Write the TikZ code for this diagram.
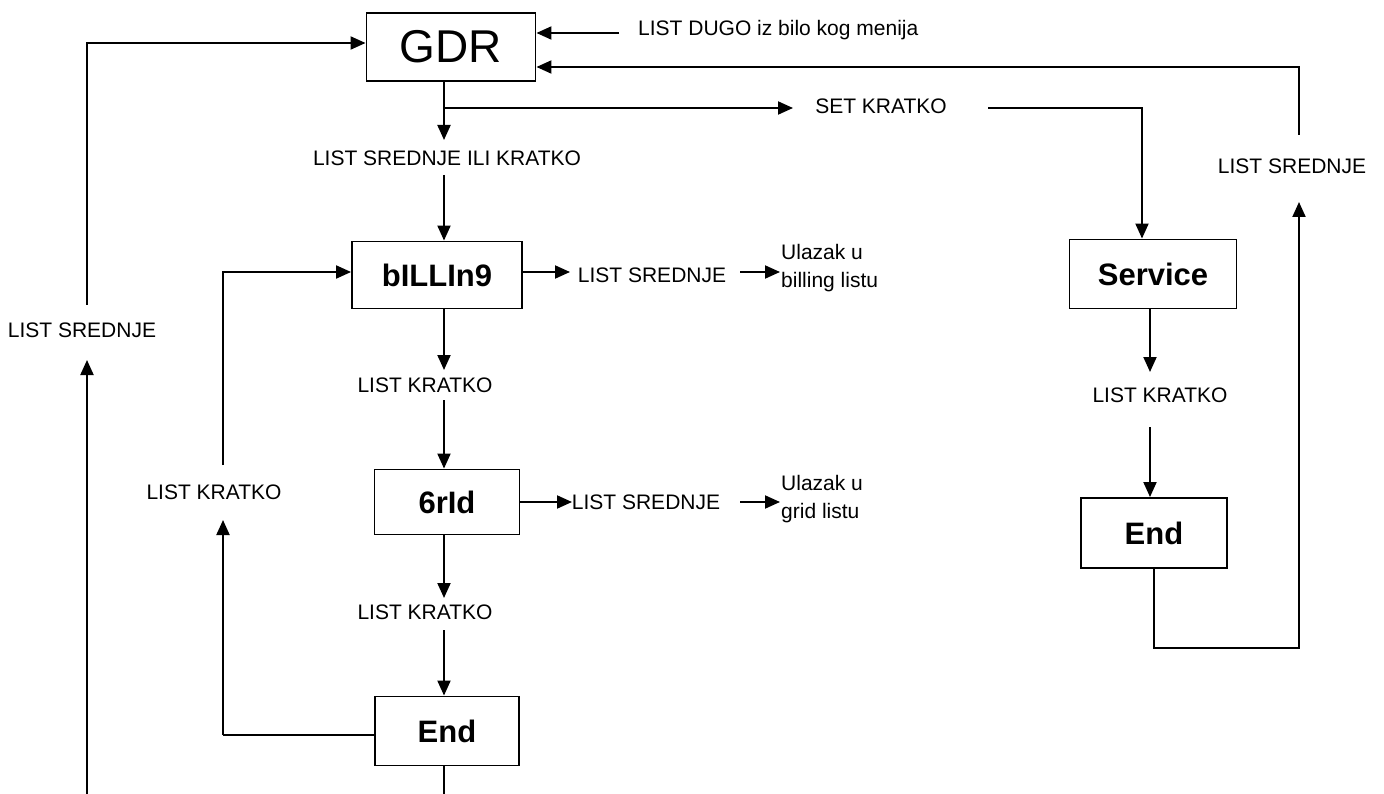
\documentclass[tikz,border=0pt]{standalone}
\usepackage{fontspec}
\setmainfont{Liberation Sans}
\usetikzlibrary{arrows.meta}

\begin{document}
\begin{tikzpicture}[
  x=1pt, y=-1pt,
  every node/.style={inner sep=2pt,font=\fontsize{21}{28}\selectfont},
  box/.style={rectangle,draw,line width=1.9pt,font=\fontsize{31}{36}\selectfont\bfseries},
  arr/.style={line width=2pt,-{Triangle[length=15pt,width=13pt]}},
  wire/.style={line width=1.6pt}
]
  \useasboundingbox (0,0) rectangle (1384,794);

  % boxes
  \node[box,minimum width=169pt,minimum height=68pt,font=\fontsize{46}{52}\selectfont] (gdr) at (451,47) {GDR};
  \node[box,minimum width=170pt,minimum height=67pt] (billing) at (437,275) {bILLIn9};
  \node[box,minimum width=145pt,minimum height=65pt] (grid) at (447,502) {6rId};
  \node[box,minimum width=144pt,minimum height=69pt] (endA) at (447,731) {End};
  \node[box,minimum width=167pt,minimum height=69pt] (service) at (1153,274) {Service};
  \node[box,minimum width=146pt,minimum height=70pt] (endB) at (1154,533) {End};

  % labels
  \node[anchor=west] (dugo) at (636,30) {LIST DUGO iz bilo kog menija};
  \node (setk) at (881,106) {SET KRATKO};
  \node (lsik) at (447,158) {LIST SREDNJE ILI KRATKO};
  \node (lk1) at (425,385) {LIST KRATKO};
  \node (lk2) at (425,612) {LIST KRATKO};
  \node (lsB) at (652,275) {LIST SREDNJE};
  \node[anchor=west,align=left] (ulB) at (779,268) {Ulazak u\\billing listu};
  \node (lsG) at (646,502) {LIST SREDNJE};
  \node[anchor=west,align=left] (ulG) at (779,499) {Ulazak u\\grid listu};
  \node (lsL) at (82,330) {LIST SREDNJE};
  \node (lkL) at (214,492) {LIST KRATKO};
  \node (lsR) at (1292,166) {LIST SREDNJE};
  \node (lkR) at (1160,395) {LIST KRATKO};

  % free ends and bends
  \coordinate (split) at (444,108);
  \coordinate (a1) at (444,140);
  \coordinate (a2) at (444,175);
  \coordinate (a3) at (444,370);
  \coordinate (a4) at (444,400);
  \coordinate (a5) at (444,598);
  \coordinate (a6) at (444,630);
  \coordinate (a7) at (444,794);
  \coordinate (setIn) at (793,108);
  \coordinate (setOut) at (988,108);
  \coordinate (sCorner) at (1142,108);
  \coordinate (dugoIn) at (619,33);
  \coordinate (rTop) at (1299,135);
  \coordinate (rCorner) at (1299,67);
  \coordinate (rBot) at (1299,648);
  \coordinate (rTip) at (1299,202);
  \coordinate (e1) at (1150,372);
  \coordinate (e2) at (1150,427);
  \coordinate (lBot) at (87,794);
  \coordinate (lTip) at (87,360);
  \coordinate (lTop) at (87,305);
  \coordinate (lCorner) at (87,43);
  \coordinate (kCorner) at (223,735);
  \coordinate (kTip) at (223,520);
  \coordinate (kTop) at (223,465);
  \coordinate (kCorner2) at (223,272);
  \coordinate (bOut) at (570,272);
  \coordinate (bFrom) at (740,272);
  \coordinate (bTo) at (780,272);
  \coordinate (gOut) at (572,502);
  \coordinate (gFrom) at (740,502);
  \coordinate (gTo) at (780,502);

  % main column
  \draw[arr] (gdr.south -| split) -- (a1);
  \draw[arr] (split) -- (setIn);
  \draw[arr] (a2) -- (billing.north -| a2);
  \draw[arr] (billing.south -| a3) -- (a3);
  \draw[arr] (a4) -- (grid.north -| a4);
  \draw[arr] (grid.south -| a5) -- (a5);
  \draw[arr] (a6) -- (endA.north -| a6);
  \draw[wire] (endA.south -| a7) -- (a7);

  \draw[arr] (bOut -| billing.east) -- (bOut);
  \draw[arr] (bFrom) -- (bTo);
  \draw[arr] (gOut -| grid.east) -- (gOut);
  \draw[arr] (gFrom) -- (gTo);

  % loops on the left
  \draw[wire] (kCorner -| endA.west) -- (kCorner);
  \draw[arr] (kCorner) -- (kTip);
  \draw[arr] (kTop) -- (kCorner2) -- (kCorner2 -| billing.west);
  \draw[arr] (lBot) -- (lTip);
  \draw[arr] (lTop) -- (lCorner) -- (lCorner -| gdr.west);

  % right side
  \draw[arr] (dugoIn) -- (dugoIn -| gdr.east);
  \draw[arr] (setOut) -- (sCorner) -- (sCorner |- service.north);
  \draw[arr] (service.south -| e1) -- (e1);
  \draw[arr] (e2) -- (endB.north -| e2);
  \draw[arr] (endB.south) |- (rBot) -- (rTip);
  \draw[arr] (rTop) -- (rCorner) -- (rCorner -| gdr.east);
\end{tikzpicture}
\end{document}
